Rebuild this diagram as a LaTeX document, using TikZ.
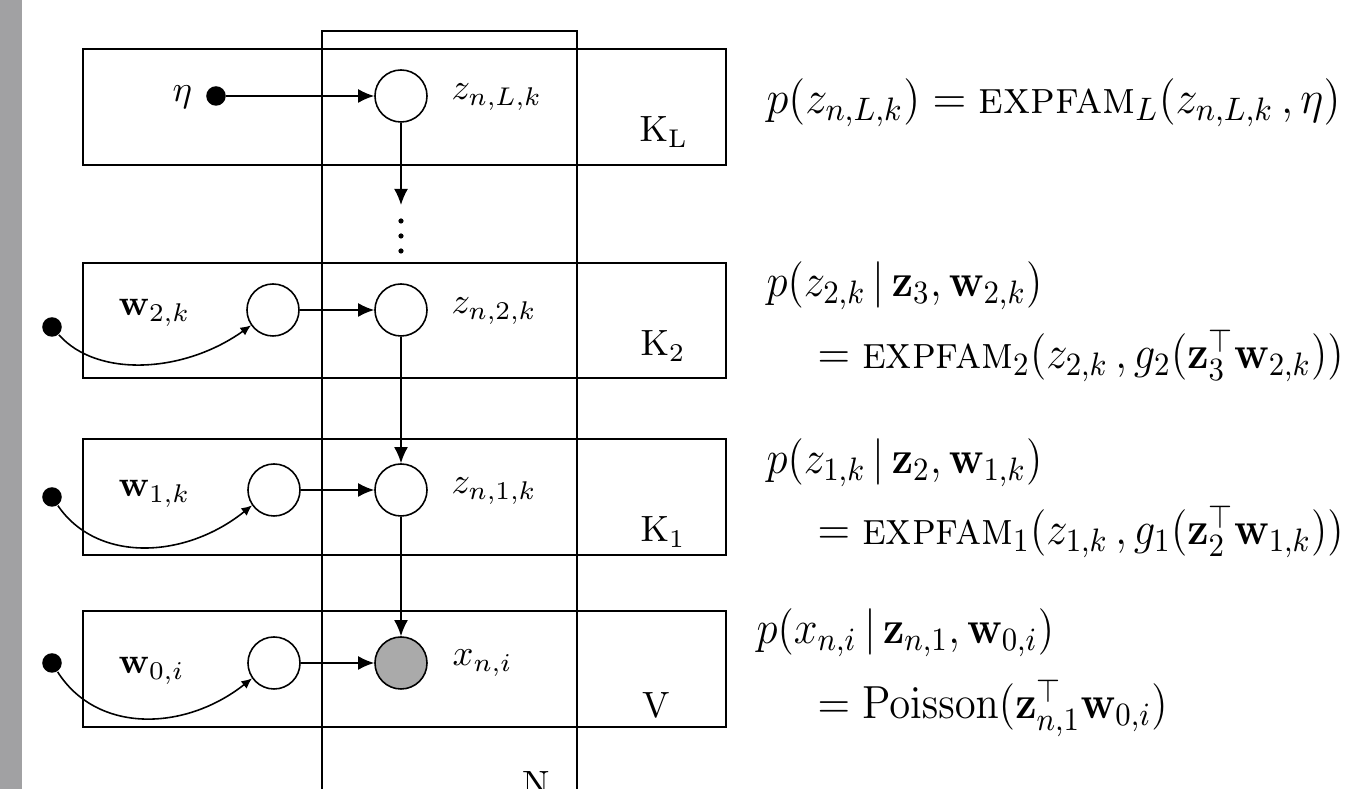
\RequirePackage{fix-cm}
\documentclass[tikz,border=0pt]{standalone}
\usepackage{amsmath}
\usetikzlibrary{arrows.meta}
\newcommand\eqsq[2][0.92]{\scalebox{#1}[1]{#2}}
\definecolor{obsgray}{RGB}{170,170,170}
\definecolor{bargray}{RGB}{161,161,163}
\begin{document}
\begin{tikzpicture}[x=0.01cm,y=-0.01cm,
  plate/.style={draw, line width=0.5pt},
  latent/.style={circle, draw, line width=0.45pt, minimum size=0.52cm, inner sep=0pt},
  obs/.style={latent, fill=obsgray},
  hyper/.style={circle, fill=black, minimum size=0.195cm, inner sep=0pt},
  arr/.style={-{Latex[length=4.6pt,width=4pt]}, line width=0.45pt},
  carr/.style={-{Latex[length=3pt,width=2.7pt]}, line width=0.45pt},
  lab/.style={anchor=base west, inner sep=0pt, font=\fontsize{10.4}{12}\selectfont},
  eq/.style={anchor=base west, inner sep=0pt, font=\fontsize{13.2}{16}\selectfont},
]
\useasboundingbox (0,0) rectangle (1350,789);
\fill[white] (0,0) rectangle (1350,789);
\fill[bargray] (0,0) rectangle (22,789);
% plates
\draw[plate] (83,49) rectangle (726,165);
\draw[plate] (83,263) rectangle (726,378);
\draw[plate] (83,439) rectangle (726,555);
\draw[plate] (83,611) rectangle (726,727);
\draw[plate] (322,795) -- (322,31) -- (577,31) -- (577,795);
% nodes
\node[hyper] (eta) at (216,96) {};
\node[latent] (zL) at (401,96) {};
\node[latent] (w2) at (273,310) {};
\node[latent] (z2) at (401,310) {};
\node[hyper] (a2) at (52,327) {};
\node[latent] (w1) at (274,490) {};
\node[latent] (z1) at (401,490) {};
\node[hyper] (a1) at (52,497) {};
\node[latent] (w0) at (274,663) {};
\node[obs] (x) at (401,663) {};
\node[hyper] (a0) at (52,663) {};
\coordinate (dtop) at (401,205);
\fill (401,221) circle[radius=2.6];
\fill (401,236) circle[radius=2.6];
\fill (401,251) circle[radius=2.6];
% labels
\node[lab] (leta) at (172,102) {$\eta$};
\node[lab] (lzL) at (451,100) {$z_{n,L,k}$};
\node[lab] (lKL) at (639,142) {$\mathrm{K_L}$};
\node[lab] (lw2) at (118,316) {$\mathbf{w}_{2,k}$};
\node[lab] (lz2) at (451,314) {$z_{n,2,k}$};
\node[lab] (lK2) at (640,356) {$\mathrm{K_2}$};
\node[lab] (lw1) at (118,497) {$\mathbf{w}_{1,k}$};
\node[lab] (lz1) at (451,494) {$z_{n,1,k}$};
\node[lab] (lK1) at (640,542) {$\mathrm{K_1}$};
\node[lab] (lw0) at (118,674) {$\mathbf{w}_{0,i}$};
\node[lab] (lx) at (452,666) {$x_{n,i}$};
\node[lab] (lV) at (642,718) {V};
\node[lab] (lN) at (522,797) {N};
% edges
\draw[arr] (eta) -- (zL);
\draw[arr] (zL) -- (dtop);
\draw[arr] (w2) -- (z2);
\draw[arr] (z2) -- (z1);
\draw[arr] (w1) -- (z1);
\draw[arr] (z1) -- (x);
\draw[arr] (w0) -- (x);
\draw[carr] (a2) .. controls +(45,51) and +(-67,48) .. (w2.215);
\draw[carr] (a1) .. controls +(45,66) and +(-67,54) .. (w1.215);
\draw[carr] (a0) .. controls +(45,71) and +(-67,53) .. (w0.215);
% equations
\node[eq] (e1) at (766,114) {\eqsq[0.955]{$p(z_{n,L,k}) = \textsc{expfam}_{L}(z_{n,L,k}\,, \eta)$}};
\node[eq] (e2) at (766,297) {\eqsq{$p(z_{2,k}\,|\,\mathbf{z}_{3}, \mathbf{w}_{2,k})$}};
\node[eq] (e3) at (817,369) {\eqsq{$= \textsc{expfam}_{2}(z_{2,k}\,, g_{2}(\mathbf{z}_{3}^{\top}\mathbf{w}_{2,k}))$}};
\node[eq] (e4) at (766,474) {\eqsq{$p(z_{1,k}\,|\,\mathbf{z}_{2}, \mathbf{w}_{1,k})$}};
\node[eq] (e5) at (817,545) {\eqsq{$= \textsc{expfam}_{1}(z_{1,k}\,, g_{1}(\mathbf{z}_{2}^{\top}\mathbf{w}_{1,k}))$}};
\node[eq] (e6) at (756,644) {\eqsq{$p(x_{n,i}\,|\,\mathbf{z}_{n,1}, \mathbf{w}_{0,i})$}};
\node[eq] (e7) at (817,719) {\eqsq{$= \mathrm{Poisson}(\mathbf{z}_{n,1}^{\top}\mathbf{w}_{0,i})$}};
\end{tikzpicture}
\end{document}
